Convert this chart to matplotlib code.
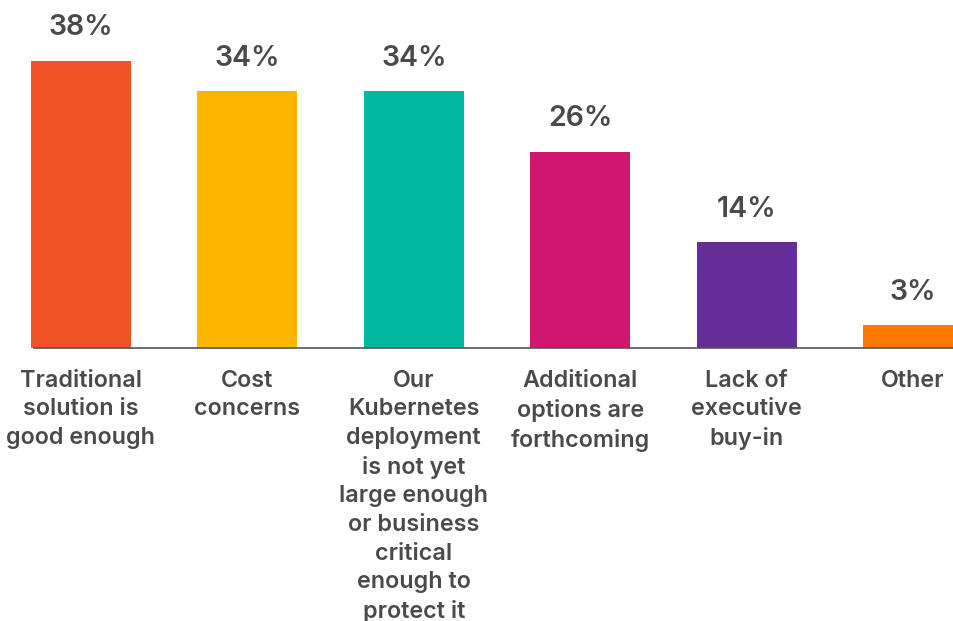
import matplotlib
matplotlib.use("Agg")
import matplotlib.pyplot as plt
import matplotlib.transforms as mtransforms

categories = [
    "Traditional\nsolution is\ngood enough",
    "Cost\nconcerns",
    "Our\nKubernetes\ndeployment\nis not yet\nlarge enough\nor business\ncritical\nenough to\nprotect it",
    "Additional\noptions are\nforthcoming",
    "Lack of\nexecutive\nbuy-in",
    "Other",
]
values = [38, 34, 34, 26, 14, 3]
colors = ["#F05325", "#FDB500", "#00B8A0", "#D0176F", "#652D9A", "#FF7A00"]

plt.rcParams['font.family'] = ['Inter', 'DejaVu Sans']
text_color = "#4a4a4a"

fig = plt.figure(figsize=(9.54, 6.21), dpi=100)
ax = fig.add_axes([31/954, 273/621, 923/954, 302/621])

x = list(range(len(values)))
ax.bar(x, values, width=0.6, color=colors, zorder=2)
ax.set_xlim(-0.3, 5.246)
ax.set_ylim(0, 40)

for s in ["top", "right", "left"]:
    ax.spines[s].set_visible(False)
ax.spines["bottom"].set_color("#555555")
ax.spines["bottom"].set_linewidth(1.2)
ax.spines["bottom"].set_bounds(-0.28, 5.246)
ax.set_xticks([])
ax.set_yticks([])

for xi, v in zip(x, values):
    ax.annotate(f"{v}%", (xi, v), xytext=(0, 18.5), textcoords="offset points",
                ha="center", va="baseline", fontsize=20.5, fontweight="semibold",
                color=text_color)

trans = mtransforms.blended_transform_factory(ax.transData, ax.transAxes)
for xi, c in zip(x, categories):
    ax.annotate(c, (xi, 0), xycoords=trans, xytext=(0, -15.5), textcoords="offset points",
                ha="center", va="top", fontsize=16.8, fontweight="semibold",
                color=text_color, linespacing=1.39, annotation_clip=False)

fig.savefig("out.png", dpi=100)
